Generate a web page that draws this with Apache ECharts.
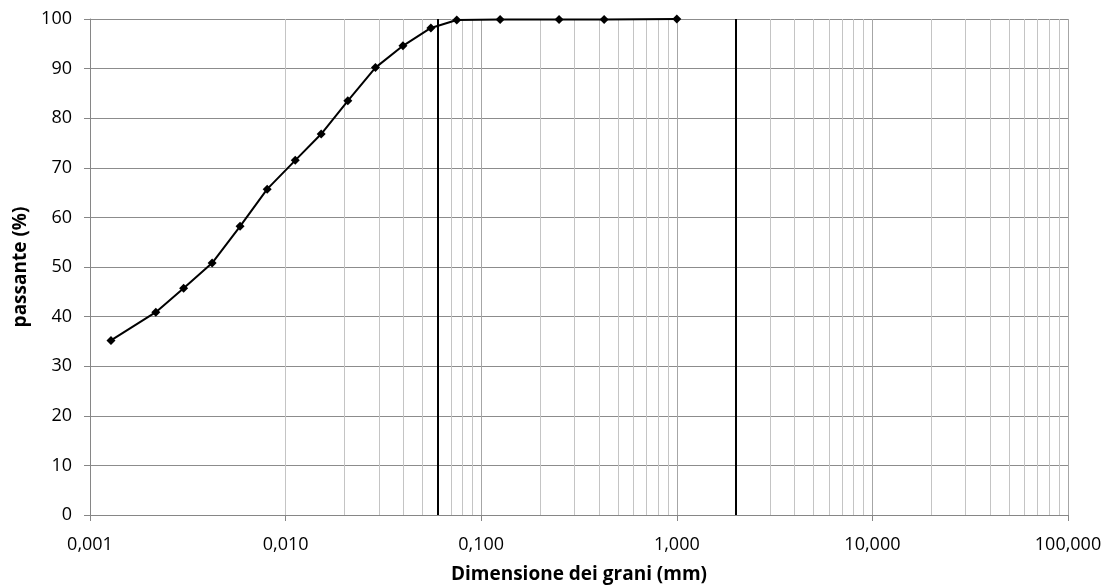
<!DOCTYPE html>
<html>

<head>
    <title>Curva granulometrica</title>
    <meta charset="utf-8">
    <script src="https://cdn.jsdelivr.net/npm/echarts@6/dist/echarts.min.js"></script>
</head>

<body style="margin:0;background:#fff;">
    <div id="granulometria" style="width: 1105px;height:587px;"></div>
    <script>
        // diametri (mm) e passante (%)
        var diametri = [0.00128, 0.00217, 0.00301, 0.00421, 0.00585, 0.00805, 0.0112, 0.0152, 0.0208, 0.0288, 0.0398, 0.0553, 0.075, 0.125, 0.25, 0.425, 1.0];
        var passante = [35.2, 40.9, 45.7, 50.8, 58.2, 65.7, 71.5, 76.8, 83.5, 90.2, 94.6, 98.2, 99.8, 99.9, 99.9, 99.9, 100];
        // limiti limo/sabbia e sabbia/ghiaia
        var limiti = [0.06, 2];
        var decadi = [0.001, 0.01, 0.1, 1, 10, 100];

        // linee secondarie 2..9 per ogni decade
        var minori = [];
        decadi.slice(0, -1).forEach(function (d) {
            for (var k = 2; k <= 9; k++) minori.push(+(d * k).toPrecision(3));
        });

        var chartDom = document.getElementById('granulometria');
        var myChart = echarts.init(chartDom);
        var font = 'Open Sans';
        var option = {
            animation: false,
            grid: {
                left: 90,
                right: 37,
                top: 19,
                bottom: 72,
                containLabel: false,
                outerBoundsMode: 'none'
            },
            xAxis: {
                type: 'log',
                logBase: 10,
                min: 0.001,
                max: 100,
                name: 'Dimensione dei grani (mm)',
                nameLocation: 'middle',
                nameGap: 50,
                nameTextStyle: { fontFamily: font, fontSize: 19, fontWeight: 'bold', color: '#000' },
                axisLine: { show: true, lineStyle: { color: '#868686', width: 1 } },
                axisTick: { show: true, length: 6, lineStyle: { color: '#868686' } },
                axisLabel: {
                    fontFamily: font, fontSize: 18, color: '#000', margin: 21,
                    formatter: function (v) { return v.toFixed(3).replace('.', ','); }
                },
                splitLine: { show: true, lineStyle: { color: '#a6a6a6', width: 1 } }
            },
            yAxis: {
                type: 'value',
                min: 0,
                max: 100,
                interval: 10,
                name: 'passante (%)',
                nameLocation: 'middle',
                nameGap: 58,
                nameTextStyle: { fontFamily: font, fontSize: 19, fontWeight: 'bold', color: '#000' },
                axisLine: { show: true, lineStyle: { color: '#868686', width: 1 } },
                axisTick: { show: true, length: 6, lineStyle: { color: '#868686' } },
                axisLabel: { fontFamily: font, fontSize: 18, color: '#000', margin: 18 },
                splitLine: { show: true, lineStyle: { color: '#8c8c8c', width: 1 } }
            },
            series: [
                {
                    name: 'griglia',
                    type: 'line',
                    data: [],
                    silent: true,
                    markLine: {
                        symbol: 'none',
                        silent: true,
                        label: { show: false },
                        lineStyle: { color: '#c4c4c4', width: 1, type: 'solid' },
                        data: minori.map(function (v) { return { xAxis: v }; })
                    }
                },
                {
                    name: 'limiti',
                    type: 'line',
                    data: [],
                    silent: true,
                    z: 3,
                    markLine: {
                        symbol: 'none',
                        silent: true,
                        label: { show: false },
                        lineStyle: { color: '#000', width: 2, type: 'solid' },
                        data: limiti.map(function (v) { return { xAxis: v }; })
                    }
                },
                {
                    name: 'passante',
                    type: 'line',
                    z: 5,
                    data: diametri.map(function (d, i) { return [d, passante[i]]; }),
                    symbol: 'diamond',
                    symbolSize: 9,
                    itemStyle: { color: '#000' },
                    lineStyle: { color: '#000', width: 2 }
                }
            ]
        };
        myChart.setOption(option);
    </script>
</body>

</html>
